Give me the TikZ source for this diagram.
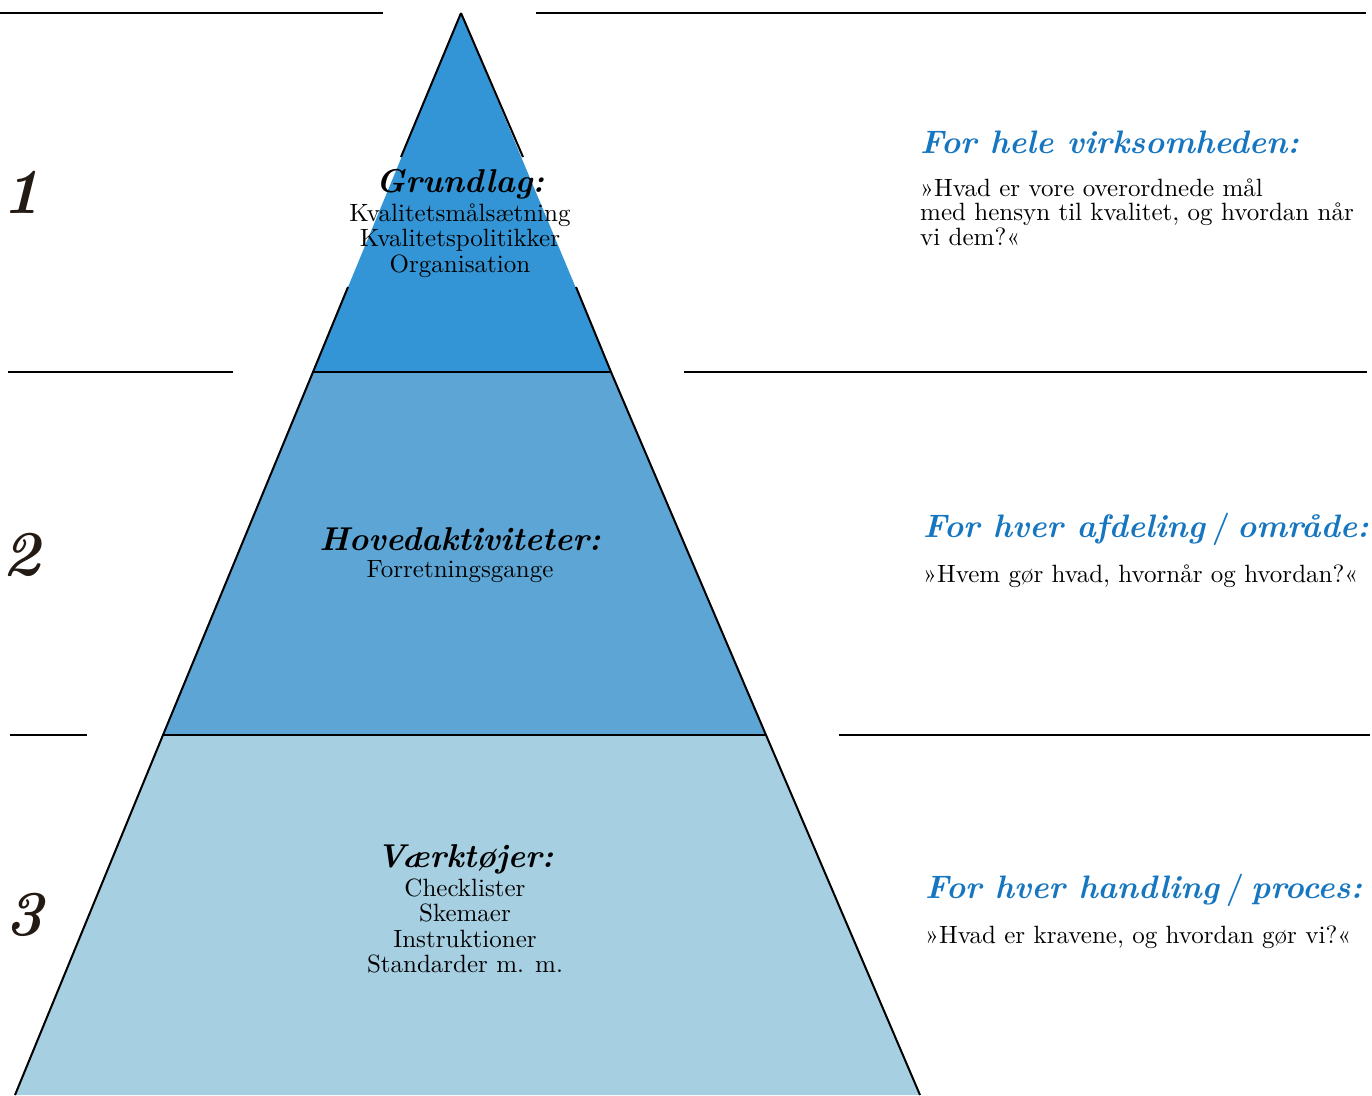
\documentclass[tikz,border=0pt]{standalone}
\usepackage{fontspec}
\usetikzlibrary{positioning}

\newfontfamily\bodyfont{lmroman10-regular.otf}

\definecolor{tierone}{RGB}{51,149,213}
\definecolor{tiertwo}{RGB}{92,165,213}
\definecolor{tierthree}{RGB}{166,207,226}
\definecolor{headblue}{RGB}{22,118,192}
\definecolor{numink}{RGB}{35,26,20}

\newcommand{\slashsep}{\hspace{7pt}{\upshape/}\hspace{7pt}}

\tikzset{
  rule/.style={line width=2pt, black},
  level/.style={font=\fontsize{33}{36}\selectfont\bfseries\itshape,
    inner sep=0pt, text depth=8pt},
  items/.style={font=\bodyfont\fontsize{25}{25.5}\selectfont, align=center, inner sep=0pt},
  askhead/.style={level, font=\fontsize{32.5}{36}\selectfont\bfseries\itshape, text=headblue},
  ask/.style={font=\bodyfont\fontsize{25}{24.5}\selectfont, align=left, inner sep=0pt},
  num/.style={font=\fontsize{64}{70}\selectfont\bfseries\itshape,
    text=numink, inner sep=0pt}
}

\begin{document}
\begin{tikzpicture}[x=1pt, y=-1pt]
  \useasboundingbox (0,0) rectangle (1372,1095);

  % pyramid corners
  \coordinate (top) at (461,13);
  \coordinate (l1) at (313,372);
  \coordinate (r1) at (611,372);
  \coordinate (l2) at (163,735);
  \coordinate (r2) at (766,735);
  \coordinate (l3) at (15,1095);
  \coordinate (r3) at (920,1095);

  % three tiers
  \fill[tierone] (top) -- (r1) -- (l1) -- cycle;
  \fill[tiertwo] (l1) -- (r1) -- (r2) -- (l2) -- cycle;
  \fill[tierthree] (l2) -- (r2) -- (r3) -- (l3) -- cycle;

  % outline, broken round the top text
  \draw[rule] (top) -- (401,157);
  \draw[rule] (top) -- (523,157);
  \draw[rule] (348,287) -- (l1) -- (l2) -- (l3);
  \draw[rule] (576,287) -- (r1) -- (r2) -- (r3);
  \draw[rule] (l1) -- (r1);
  \draw[rule] (l2) -- (r2);

  % side rules
  \draw[rule] (0,13) -- (383,13);
  \draw[rule] (536,13) -- (1366,13);
  \draw[rule] (8,372) -- (233,372);
  \draw[rule] (684,372) -- (1367,372);
  \draw[rule] (10,735) -- (87,735);
  \draw[rule] (839,735) -- (1370,735);

  % level numbers
  \node[num, anchor=base west] (n1) at (2,213) {1};
  \node[num, anchor=base west] (n2) at (2,575) {2};
  \node[num, anchor=base west] (n3) at (5,935) {3};

  % pyramid texts
  \node[level, anchor=base] (grund) at (460,192) {Grundlag:};
  \node[items, below=3pt of grund] (grundtxt)
    {Kvalitetsmålsætning\\Kvalitetspolitikker\\Organisation};

  \node[level, anchor=base] (hoved) at (460,550) {Hovedaktiviteter:};
  \node[items, below=2pt of hoved] (hovedtxt) {Forretningsgange};

  \node[level, anchor=base] (vaerk) at (465,867) {Værktøjer:};
  \node[items, below=3pt of vaerk] (vaerktxt)
    {Checklister\\Skemaer\\Instruktioner\\Standarder m. m.};

  % questions on the right
  \node[askhead, anchor=base west] (hele) at (920,153) {For hele virksomheden:};
  \node[ask, below=17pt of hele.south west, anchor=north west] (heletxt)
    {»Hvad er vore overordnede mål\\med hensyn til kvalitet, og hvordan når\\vi dem?«};

  \node[askhead, anchor=base west] (afd) at (923,537) {For hver afdeling\slashsep område:};
  \node[ask, below=19pt of afd.south west, anchor=north west] (afdtxt)
    {»Hvem gør hvad, hvornår og hvordan?«};

  \node[askhead, anchor=base west] (hand) at (925,898) {For hver handling\slashsep proces:};
  \node[ask, below=19pt of hand.south west, anchor=north west] (handtxt)
    {»Hvad er kravene, og hvordan gør vi?«};
\end{tikzpicture}
\end{document}
